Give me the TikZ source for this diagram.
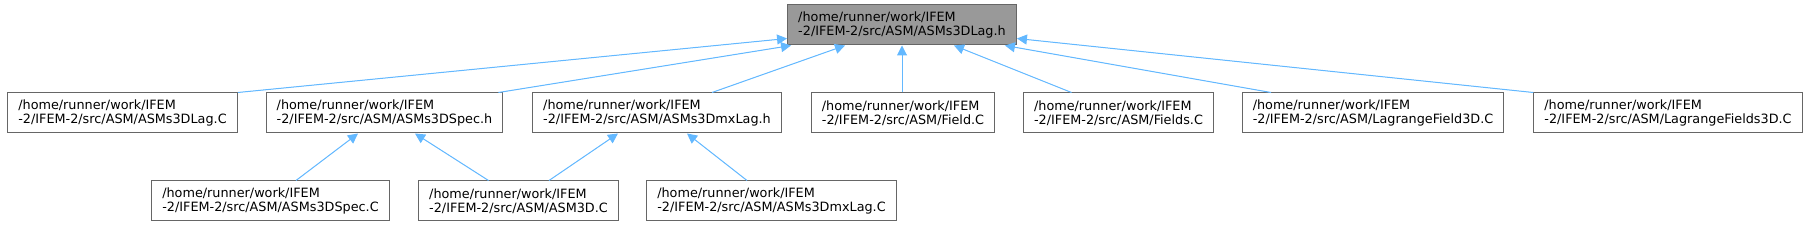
\documentclass[tikz,border=0pt]{standalone}
\usepackage{fontspec}
\setmainfont{DejaVu Sans}
\usetikzlibrary{arrows.meta, calc}
\definecolor{edgeblue}{HTML}{63B8FF}
\definecolor{boxgray}{HTML}{666666}
\definecolor{curfill}{HTML}{999999}
\tikzset{
  fil/.style={draw=boxgray, line width=0.75pt, fill=white, align=left, inner xsep=8pt,
    minimum height=30pt, font=\fontsize{9.6}{10.7}\selectfont},
  cur/.style={fil, fill=curfill},
  dep/.style={{Triangle[length=7.5pt, width=7.5pt]}-, draw=edgeblue, fill=edgeblue, line width=0.75pt}
}
\begin{document}
\begin{tikzpicture}[x=0.75pt, y=-0.75pt]
	\useasboundingbox (0,0) rectangle (1810,227);
	% the header itself
	\node[cur] (root) at (902,25) {/home/runner/work/IFEM\\-2/IFEM-2/src/ASM/ASMs3DLag.h};
	% files that include it directly
	\node[fil] (lagc)   at (122.5,113) {/home/runner/work/IFEM\\-2/IFEM-2/src/ASM/ASMs3DLag.C};
	\node[fil] (spech)  at (384.5,113) {/home/runner/work/IFEM\\-2/IFEM-2/src/ASM/ASMs3DSpec.h};
	\node[fil] (mxlagh) at (657,113)   {/home/runner/work/IFEM\\-2/IFEM-2/src/ASM/ASMs3DmxLag.h};
	\node[fil] (fieldc) at (903,113)   {/home/runner/work/IFEM\\-2/IFEM-2/src/ASM/Field.C};
	\node[fil] (fldsc)  at (1118.5,113) {/home/runner/work/IFEM\\-2/IFEM-2/src/ASM/Fields.C};
	\node[fil] (lfc)    at (1373,113)  {/home/runner/work/IFEM\\-2/IFEM-2/src/ASM/LagrangeField3D.C};
	\node[fil] (lfsc)   at (1668,113)  {/home/runner/work/IFEM\\-2/IFEM-2/src/ASM/LagrangeFields3D.C};
	% second level
	\node[fil] (specc)  at (270.5,201) {/home/runner/work/IFEM\\-2/IFEM-2/src/ASM/ASMs3DSpec.C};
	\node[fil] (asmc)   at (518.5,201) {/home/runner/work/IFEM\\-2/IFEM-2/src/ASM/ASM3D.C};
	\node[fil] (mxlagc) at (771.5,201) {/home/runner/work/IFEM\\-2/IFEM-2/src/ASM/ASMs3DmxLag.C};
	% include edges
	\draw[dep] ($(root.south west)+(0,-7)$) -- (lagc.north east);
	\draw[dep] ($(root.south west)+(4,0)$) -- ($(spech.north east)+(-5,0)$);
	\draw[dep] ($(root.south)+(-57,0)$) -- ($(mxlagh.north)+(55,0)$);
	\draw[dep] (root.south) -- (root.south |- fieldc.north);
	\draw[dep] ($(root.south)+(52,0)$) -- ($(fldsc.north)+(-47,0)$);
	\draw[dep] ($(root.south east)+(-12,0)$) -- ($(lfc.north)+(-102,0)$);
	\draw[dep] ($(root.south east)+(0,-7)$) -- (lfsc.north west);
	\draw[dep] ($(spech.south)+(-26.5,0)$) -- ($(specc.north)+(25.5,0)$);
	\draw[dep] ($(spech.south)+(30.5,0)$) -- ($(asmc.north)+(-30,0)$);
	\draw[dep] ($(mxlagh.south)+(-39,0)$) -- ($(asmc.north)+(30.5,0)$);
	\draw[dep] ($(mxlagh.south)+(30,0)$) -- ($(mxlagc.north)+(-24.5,0)$);
\end{tikzpicture}
\end{document}
